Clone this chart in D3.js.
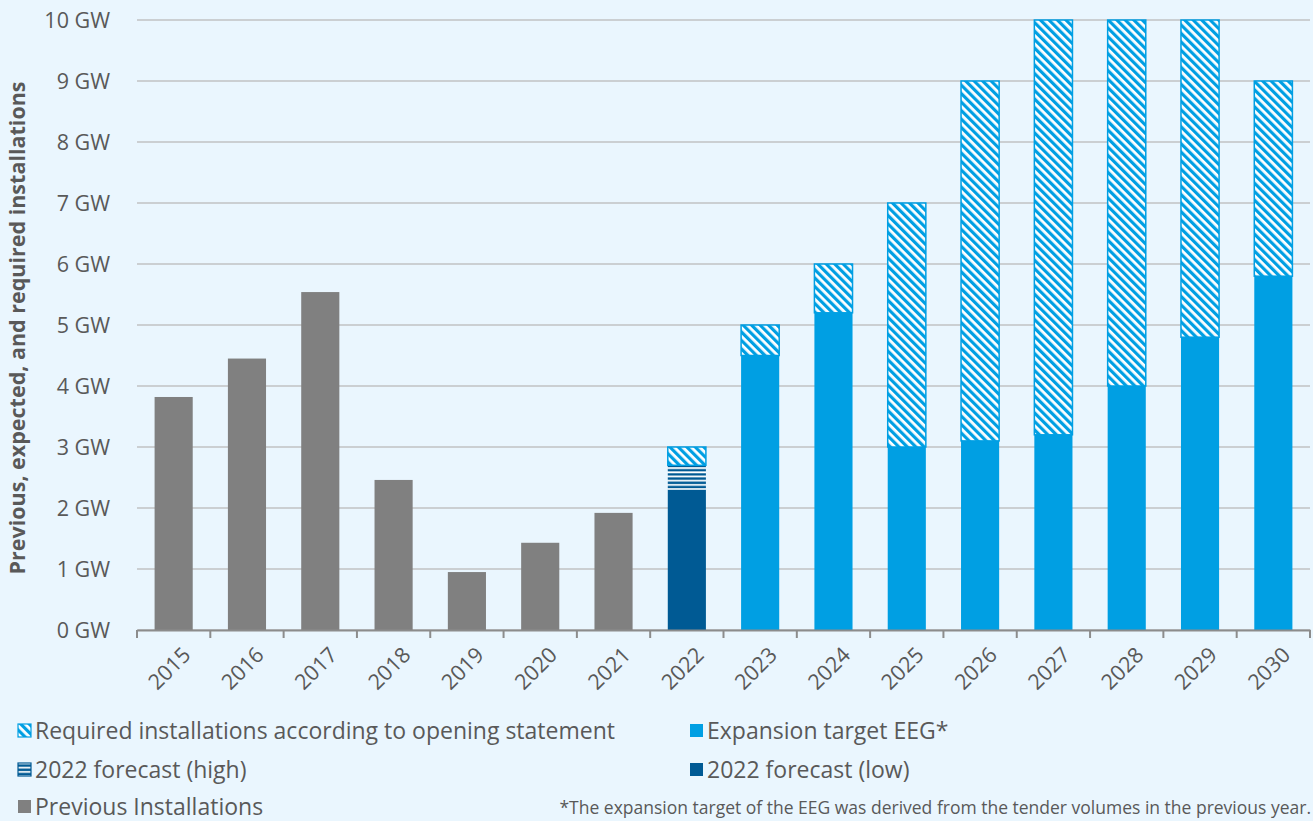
<!DOCTYPE html>
<html>
<head>
<meta charset="utf-8">
<script src="https://cdn.jsdelivr.net/npm/d3@7"></script>
<style>
  html, body { margin: 0; padding: 0; background: #eaf6fe; }
  svg { display: block; font-family: "Open Sans", "Noto Sans", sans-serif; }
</style>
</head>
<body>
<svg id="chart"></svg>
<script>
// data
let years = ["2015", "2016", "2017", "2018", "2019", "2020", "2021", "2022",
             "2023", "2024", "2025", "2026", "2027", "2028", "2029", "2030"];
let previous    = [3.82, 4.45, 5.54, 2.46, 0.95, 1.43, 1.92, 0, 0, 0, 0, 0, 0, 0, 0, 0];
let forecastLow = [0, 0, 0, 0, 0, 0, 0, 2.3, 0, 0, 0, 0, 0, 0, 0, 0];
let forecastHigh = [0, 0, 0, 0, 0, 0, 0, 0.4, 0, 0, 0, 0, 0, 0, 0, 0];
let targetEEG   = [0, 0, 0, 0, 0, 0, 0, 0, 4.5, 5.2, 3.0, 3.1, 3.2, 4.0, 4.8, 5.8];
let required    = [0, 0, 0, 0, 0, 0, 0, 0.3, 0.5, 0.8, 4.0, 5.9, 6.8, 6.0, 5.2, 3.2];
let yTicks = [0, 1, 2, 3, 4, 5, 6, 7, 8, 9, 10];

let width = 1313;
let height = 821;
let plotLeft = 137, plotRight = 1310, plotTop = 20, plotBottom = 630;
let textColor = "#595959";
let lightBlue = "#009fe3";
let darkBlue = "#005a94";
let grey = "#808080";

let svg = d3.select("#chart")
    .attr("width", width)
    .attr("height", height);

svg.append("rect")
    .attr("width", width)
    .attr("height", height)
    .attr("fill", "#eaf6fe");

// patterns
let defs = svg.append("defs");
let diag = defs.append("pattern")
    .attr("id", "diag")
    .attr("patternUnits", "userSpaceOnUse")
    .attr("width", 6)
    .attr("height", 6)
    .attr("patternTransform", "rotate(-45)");
diag.append("rect").attr("width", 6).attr("height", 6).attr("fill", "#ffffff");
diag.append("rect").attr("width", 3.2).attr("height", 6).attr("fill", lightBlue);

let horiz = defs.append("pattern")
    .attr("id", "horiz")
    .attr("patternUnits", "userSpaceOnUse")
    .attr("width", 8)
    .attr("height", 4.2);
horiz.append("rect").attr("width", 8).attr("height", 4.2).attr("fill", darkBlue);
horiz.append("rect").attr("y", 1).attr("width", 8).attr("height", 1.8).attr("fill", "#ffffff");

let xScale = d3.scaleBand()
    .domain(years)
    .range([plotLeft, plotRight])
    .paddingInner(0.48)
    .paddingOuter(0.24);

let yScale = d3.scaleLinear()
    .domain([0, 10])
    .range([plotBottom, plotTop]);

// gridlines
svg.append("g")
    .selectAll("line")
    .data(yTicks)
    .enter()
    .append("line")
    .attr("x1", plotLeft)
    .attr("x2", plotRight)
    .attr("y1", d => yScale(d))
    .attr("y2", d => yScale(d))
    .attr("stroke", "#cbcfd2")
    .attr("stroke-width", 2);

// y labels
svg.append("g")
    .selectAll("text")
    .data(yTicks)
    .enter()
    .append("text")
    .attr("x", 110)
    .attr("y", d => yScale(d))
    .attr("dy", "0.35em")
    .attr("text-anchor", "end")
    .attr("font-size", 21.5)
    .attr("fill", textColor)
    .text(d => d + " GW");

svg.append("text")
    .attr("transform", "rotate(-90)")
    .attr("x", -(plotTop + plotBottom) / 2 - 3)
    .attr("y", 25)
    .attr("text-anchor", "middle")
    .attr("font-size", 21.5)
    .attr("font-weight", "bold")
    .attr("fill", textColor)
    .text("Previous, expected, and required installations");

// stacked bars
let keys = ["previous", "forecastLow", "forecastHigh", "targetEEG", "required"];
let fills = {
    previous: grey,
    forecastLow: darkBlue,
    forecastHigh: "url(#horiz)",
    targetEEG: lightBlue,
    required: "url(#diag)"
};
let rows = years.map((y, i) => ({
    year: y,
    previous: previous[i],
    forecastLow: forecastLow[i],
    forecastHigh: forecastHigh[i],
    targetEEG: targetEEG[i],
    required: required[i]
}));
let series = d3.stack().keys(keys)(rows);

svg.append("g")
    .selectAll("g")
    .data(series)
    .enter()
    .append("g")
    .attr("fill", d => fills[d.key])
    .each(function(s) {
        d3.select(this)
            .selectAll("rect")
            .data(s.filter(d => d[1] - d[0] > 0))
            .enter()
            .append("rect")
            .attr("x", d => xScale(d.data.year))
            .attr("width", xScale.bandwidth())
            .attr("y", d => yScale(d[1]))
            .attr("height", d => yScale(d[0]) - yScale(d[1]))
            .attr("stroke", s.key == "required" ? lightBlue : "none")
            .attr("stroke-width", 1.5);
    });

// bottom axis
let xAxis = d3.axisBottom(xScale).tickSize(0).tickSizeOuter(0);
let xg = svg.append("g")
    .attr("transform", "translate(0," + plotBottom + ")")
    .call(xAxis);
xg.select(".domain").attr("stroke", "#8c8c8c").attr("stroke-width", 2);
xg.selectAll("text")
    .attr("font-size", 21.5)
    .attr("font-family", "'Open Sans', 'Noto Sans', sans-serif")
    .attr("fill", textColor)
    .attr("text-anchor", "end")
    .attr("transform", "translate(13,21) rotate(-45)")
    .attr("dy", "0.35em")
    .attr("y", 0)
    .attr("x", 0);

let step = xScale.step();
let boundaries = d3.range(years.length + 1).map(i => plotLeft + i * step);
svg.append("g")
    .selectAll("line")
    .data(boundaries)
    .enter()
    .append("line")
    .attr("x1", d => d)
    .attr("x2", d => d)
    .attr("y1", plotBottom)
    .attr("y2", plotBottom + 8)
    .attr("stroke", "#8c8c8c")
    .attr("stroke-width", 2);

// legend
let legendItems = [
    {label: "Required installations according to opening statement", fill: "url(#diag)", stroke: lightBlue, x: 17, y: 731},
    {label: "Expansion target EEG*", fill: lightBlue, stroke: "none", x: 689, y: 731},
    {label: "2022 forecast (high)", fill: "url(#horiz)", stroke: darkBlue, x: 17, y: 770},
    {label: "2022 forecast (low)", fill: darkBlue, stroke: "none", x: 689, y: 770},
    {label: "Previous Installations", fill: grey, stroke: "none", x: 17, y: 807}
];
let legend = svg.append("g")
    .selectAll("g")
    .data(legendItems)
    .enter()
    .append("g")
    .attr("transform", d => "translate(" + d.x + "," + d.y + ")");
legend.append("rect")
    .attr("x", 1)
    .attr("y", -7)
    .attr("width", 13)
    .attr("height", 13)
    .attr("fill", d => d.fill)
    .attr("stroke", d => d.stroke)
    .attr("stroke-width", 1.2);
legend.append("text")
    .attr("x", 18)
    .attr("dy", "0.35em")
    .attr("font-size", 23)
    .attr("fill", textColor)
    .text(d => d.label);

svg.append("text")
    .attr("x", 1311)
    .attr("y", 808)
    .attr("dy", "0.35em")
    .attr("text-anchor", "end")
    .attr("font-size", 17.5)
    .attr("fill", textColor)
    .text("*The expansion target of the EEG was derived from the tender volumes in the previous year.");
</script>
</body>
</html>
